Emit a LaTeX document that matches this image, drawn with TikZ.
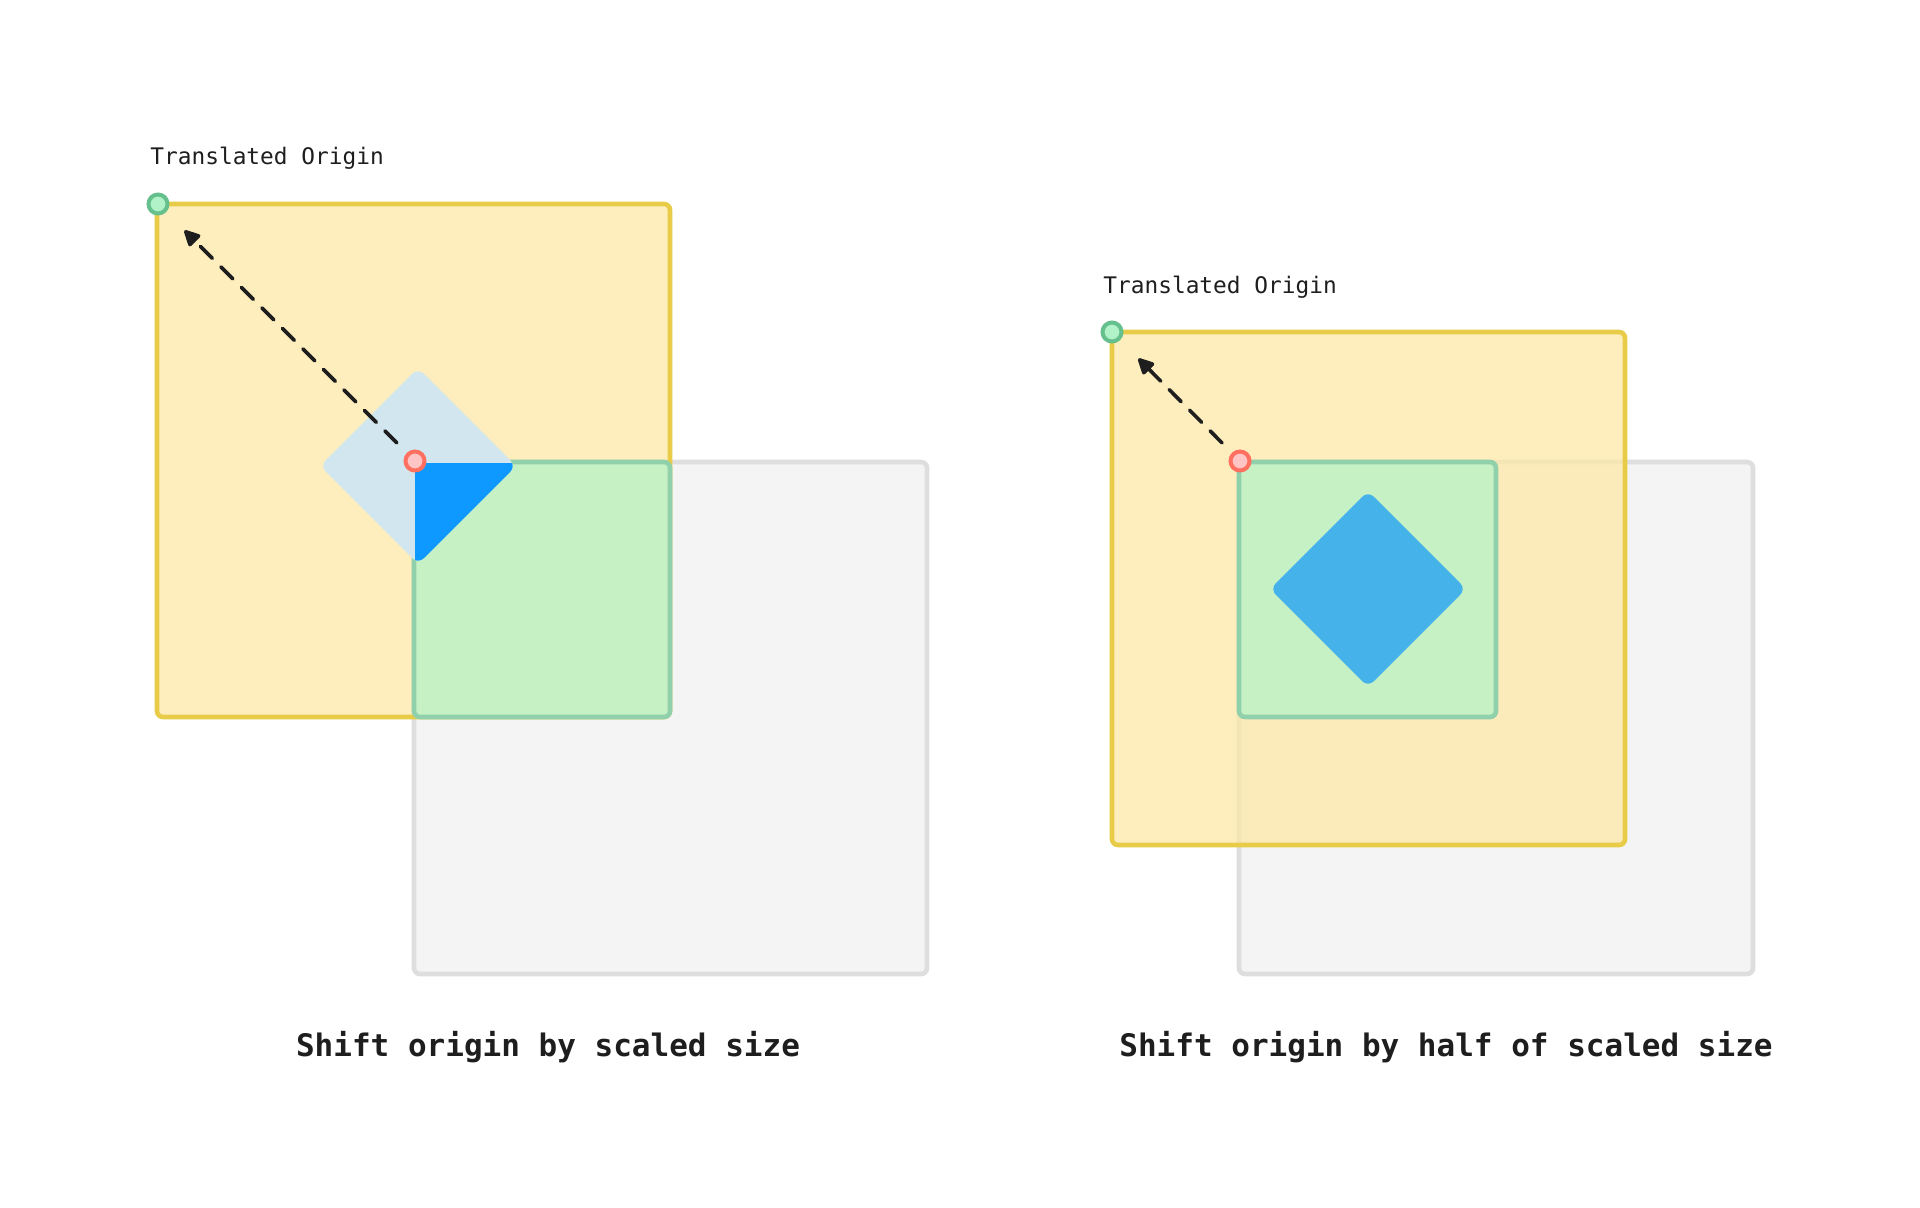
\documentclass[tikz,border=0pt]{standalone}
\usepackage{fontspec}
\setmonofont{DejaVu Sans Mono}
\usetikzlibrary{arrows.meta}
\definecolor{yfill}{RGB}{254,232,163}
\definecolor{yline}{RGB}{232,204,72}
\definecolor{gfill}{RGB}{197,241,197}
\definecolor{gline}{RGB}{144,209,171}
\definecolor{kfill}{RGB}{244,244,244}
\definecolor{kline}{RGB}{222,222,222}
\definecolor{ghostblue}{RGB}{209,230,238}
\definecolor{strongblue}{RGB}{13,153,255}
\definecolor{midblue}{RGB}{69,178,234}
\definecolor{redfill}{RGB}{255,196,196}
\definecolor{redline}{RGB}{255,112,96}
\definecolor{grnfill}{RGB}{178,242,201}
\definecolor{grnline}{RGB}{102,192,141}
\definecolor{ink}{RGB}{30,30,30}
\tikzset{
  yellowsq/.style={fill=yfill,fill opacity=0.7,draw=yline,draw opacity=1,line width=2.3pt,rounded corners=3pt},
  greensq/.style={fill=gfill,draw=gline,line width=2.3pt,rounded corners=3pt},
  graysq/.style={fill=kfill,draw=kline,line width=2.3pt,rounded corners=3pt},
  reddot/.style={circle,fill=redfill,draw=redline,line width=2pt,minimum size=9.5pt,inner sep=0pt},
  greendot/.style={circle,fill=grnfill,draw=grnline,line width=2pt,minimum size=9.5pt,inner sep=0pt},
  shiftarrow/.style={draw=ink,line width=1.8pt,line cap=round,dash pattern=on 8.5pt off 6pt,
    -{Triangle[length=9pt,width=8.5pt,round]},shorten >=13pt,shorten <=7pt},
  smalllabel/.style={font=\ttfamily\fontsize{11.4pt}{13pt}\selectfont,text=ink,anchor=base west,inner sep=0pt},
  titlelabel/.style={font=\ttfamily\bfseries\fontsize{15.5pt}{18pt}\selectfont,text=ink,anchor=base,inner sep=0pt}
}
\begin{document}
\begin{tikzpicture}[x=0.5pt,y=-0.5pt]
\useasboundingbox (0,0) rectangle (1920,1208);
\fill[white] (0,0) rectangle (1920,1208);
% ---------- left panel ----------
\draw[graysq] (414,462) rectangle (927,974);
\draw[yellowsq] (157,204) rectangle (670,717);
\draw[greensq] (414,462) rectangle (670,717);
\fill[ghostblue,rounded corners=4pt] (418,368) -- (516,466) -- (418,564) -- (320,466) -- cycle;
\begin{scope}
  \clip (415,463) rectangle (669,716);
  \fill[strongblue,rounded corners=4pt] (418,368) -- (516,466) -- (418,564) -- (320,466) -- cycle;
\end{scope}
\node[greendot] (gL) at (158,204) {};
\node[reddot] (rL) at (415,461) {};
\draw[shiftarrow] (rL) -- (gL);
\node[smalllabel] (tL) at (150,165) {Translated Origin};
\node[titlelabel] (cL) at (548,1056) {Shift origin by scaled size};
% ---------- right panel ----------
\draw[graysq] (1239,462) rectangle (1753,974);
\draw[yellowsq] (1112,332) rectangle (1625,845);
\draw[greensq] (1239,462) rectangle (1496,717);
\fill[midblue,rounded corners=4pt] (1368,491) -- (1466,589) -- (1368,687) -- (1270,589) -- cycle;
\node[greendot] (gR) at (1112,332) {};
\node[reddot] (rR) at (1240,461) {};
\draw[shiftarrow] (rR) -- (gR);
\node[smalllabel] (tR) at (1103,294) {Translated Origin};
\node[titlelabel] (cR) at (1446,1056) {Shift origin by half of scaled size};
\end{tikzpicture}
\end{document}
